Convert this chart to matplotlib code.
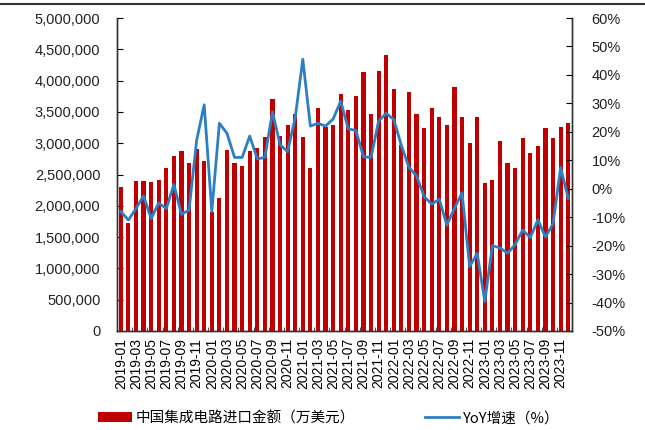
import matplotlib
matplotlib.use('Agg')
import matplotlib.pyplot as plt
import numpy as np
from matplotlib.lines import Line2D
from matplotlib.patches import Patch
from matplotlib.ticker import FuncFormatter, FixedLocator

# monthly data 2019-01 .. 2023-12
months = [f"{y}-{m:02d}" for y in range(2019, 2024) for m in range(1, 13)]

# 中国集成电路进口金额 (万美元)
import_value = [
    2300000, 1730000, 2400000, 2400000, 2380000, 2420000, 2610000, 2790000, 2870000, 2680000, 2910000, 2720000,
    1900000, 2130000, 2890000, 2680000, 2640000, 2870000, 2920000, 3100000, 3700000, 3110000, 3290000, 3460000,
    3100000, 2610000, 3570000, 3260000, 3290000, 3790000, 3530000, 3760000, 4130000, 3460000, 4150000, 4410000,
    3870000, 2970000, 3820000, 3460000, 3240000, 3570000, 3420000, 3290000, 3900000, 3420000, 3000000, 3420000,
    2360000, 2410000, 3040000, 2680000, 2610000, 3080000, 2850000, 2960000, 3240000, 3080000, 3260000, 3320000,
]

# YoY 增速 (%)
yoy = [
    -8.0, -11.0, -7.0, -2.5, -10.5, -5.0, -7.0, 1.5, -9.0, -7.5, 17.0, 29.5,
    -8.0, 23.0, 19.5, 11.0, 11.0, 18.5, 10.5, 11.0, 27.0, 15.5, 13.0, 25.0,
    45.5, 22.0, 23.0, 22.0, 24.5, 30.8, 21.0, 20.5, 11.2, 11.0, 23.8, 26.5,
    24.3, 15.2, 7.5, 4.5, -2.8, -5.4, -3.7, -12.8, -6.9, -1.4, -27.4, -22.7,
    -39.7, -20.0, -20.8, -22.7, -19.6, -14.5, -17.2, -10.9, -17.0, -12.3, 7.5, -3.4,
]

bar_label = '中国集成电路进口金额（万美元）'
line_label = 'YoY增速（%）'

plt.rcParams['font.family'] = ['Liberation Sans', 'Noto Sans CJK SC', 'DejaVu Sans']

fig = plt.figure(figsize=(6.45, 4.3), dpi=100)
ax = fig.add_axes([117 / 645, 1 - 331 / 430, (572 - 117) / 645, (331 - 18) / 430])
ax2 = ax.twinx()

x = np.arange(len(months))
red = '#C00000'
blue = '#2E7EC1'

ax.bar(x, import_value, width=0.55, color=red, zorder=2)
ax2.plot(x, yoy, color=blue, lw=2.0, zorder=3)

ax.set_xlim(-0.5, len(months) - 0.5)
ax.set_ylim(0, 5000000)
ax.set_yticks(np.arange(0, 5000001, 500000))
ax.yaxis.set_major_formatter(FuncFormatter(lambda v, p: f"{int(v):,}"))
ax2.set_ylim(-50, 60)
ax2.set_yticks(np.arange(-50, 61, 10))
ax2.yaxis.set_major_formatter(FuncFormatter(lambda v, p: f"{int(v)}%"))

ax.set_xticks(x[::2])
ax.set_xticklabels(months[::2], rotation=90, fontsize=10)
ax.xaxis.set_minor_locator(FixedLocator(np.arange(-0.5, len(months), 2)))
ax.tick_params(axis='x', which='major', length=0, pad=5)
ax.tick_params(axis='x', which='minor', direction='in', length=3, color='#333333')

ax.tick_params(axis='y', direction='in', length=4, pad=12, labelsize=10.5, labelcolor='#222222')
ax2.tick_params(axis='y', direction='in', length=4, pad=14, labelsize=10.5, labelcolor='#222222')

for a in (ax, ax2):
    a.spines['top'].set_visible(False)
    for s in ('left', 'right', 'bottom'):
        a.spines[s].set_color('#333333')
        a.spines[s].set_linewidth(1.0)

# top border line of the picture
fig.add_artist(Line2D([0, 1], [1 - 4 / 430, 1 - 4 / 430], color='#333333', lw=1.5))

handles = [Patch(facecolor=red, edgecolor='none'), Line2D([0], [0], color=blue, lw=2.0)]
fig.legend(handles, [bar_label, line_label], loc='center', bbox_to_anchor=(0.51, 1 - 418 / 430),
           ncol=2, frameon=False, fontsize=10.5, handlelength=2.3, handleheight=0.6,
           handletextpad=0.3, columnspacing=4.8,
           prop={'family': ['Noto Sans CJK SC', 'DejaVu Sans'], 'size': 10.5})

fig.savefig('out.png', dpi=100)
